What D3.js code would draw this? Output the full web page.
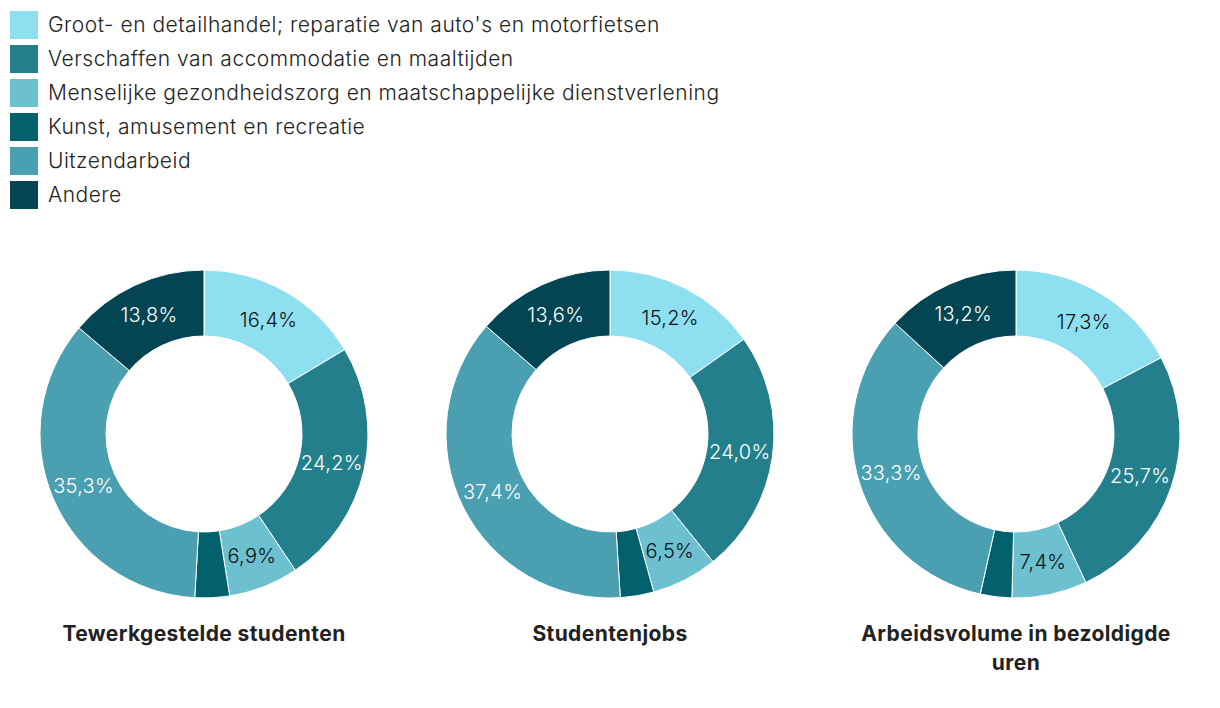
<!DOCTYPE html>
<html>
<head>
<meta charset="utf-8">
<script src="https://cdn.jsdelivr.net/npm/d3@7"></script>
<style>
  body { margin: 0; background: #fff; }
  svg { display: block; font-family: Inter, "Noto Sans", sans-serif; }
</style>
</head>
<body>
<svg id="svg1"></svg>
<script>

var categories = [
  "Groot- en detailhandel; reparatie van auto's en motorfietsen",
  "Verschaffen van accommodatie en maaltijden",
  "Menselijke gezondheidszorg en maatschappelijke dienstverlening",
  "Kunst, amusement en recreatie",
  "Uitzendarbeid",
  "Andere"
];
var colors = ["#8ee0f1", "#237f8c", "#6cc0d0", "#02616d", "#4a9fb0", "#034553"];
var textColors = ["#111", "#fff", "#111", "#fff", "#fff", "#fff"];

var titles = [["Tewerkgestelde studenten"], ["Studentenjobs"], ["Arbeidsvolume in bezoldigde", "uren"]];
var studenten = [16.4, 24.2, 6.9, 3.4, 35.3, 13.8];
var jobs = [15.2, 24.0, 6.5, 3.3, 37.4, 13.6];
var uren = [17.3, 25.7, 7.4, 3.1, 33.3, 13.2];
var series = [studenten, jobs, uren];

var width = 1220, height = 708;
var outer = 164, inner = 98;

var svg = d3.select("#svg1")
    .attr("width", width)
    .attr("height", height);

// legend
var legend = svg.append("g").attr("transform", "translate(10,11)");
var item = legend.selectAll("g")
    .data(categories)
    .enter()
    .append("g")
      .attr("transform", function (d, i) { return "translate(0," + i * 34 + ")"; });
item.append("rect")
    .attr("width", 28)
    .attr("height", 28)
    .style("fill", function (d, i) { return colors[i]; });
item.append("text")
    .attr("x", 38)
    .attr("y", 21)
    .style("font-size", "21px")
    .style("letter-spacing", "0.5px")
    .style("font-weight", 300)
    .style("fill", "#222")
    .text(function (d) { return d; });

var x = d3.scalePoint()
    .domain(d3.range(series.length))
    .range([204, 1016]);

var pie = d3.pie().sort(null).value(function (d) { return d; });
var arc = d3.arc().innerRadius(inner).outerRadius(outer);
var labelArc = d3.arc().innerRadius((inner + outer) / 2).outerRadius((inner + outer) / 2);

series.forEach(function (values, k) {
  var g = svg.append("g")
      .attr("transform", "translate(" + x(k) + ",434)");

  var slices = pie(values);
  slices.forEach(function (s, i) { s.idx = i; });

  g.selectAll("path")
      .data(slices)
      .enter()
      .append("path")
        .attr("d", arc)
        .style("fill", function (d) { return colors[d.idx]; })
        .style("stroke", "#fff")
        .style("stroke-width", 1);

  g.selectAll("text")
      .data(slices.filter(function (d) { return d.data >= 5; }))
      .enter()
      .append("text")
        .attr("transform", function (d) { return "translate(" + labelArc.centroid(d) + ")"; })
        .attr("text-anchor", "middle")
        .attr("dy", "0.35em")
        .style("font-size", "20px")
        .style("letter-spacing", "0.3px")
        .style("font-weight", 300)
        .style("fill", function (d) { return textColors[d.idx]; })
        .text(function (d) { return d.data.toFixed(1).replace(".", ",") + "%"; });

  svg.append("text")
      .attr("x", x(k))
      .attr("y", 641)
      .attr("text-anchor", "middle")
      .style("font-size", "21px")
      .style("letter-spacing", "0.4px")
      .style("font-weight", 700)
      .style("fill", "#222")
      .selectAll("tspan")
      .data(titles[k])
      .enter()
      .append("tspan")
        .attr("x", x(k))
        .attr("dy", function (d, i) { return i ? 29 : 0; })
        .text(function (d) { return d; });
});

</script>
</body>
</html>
